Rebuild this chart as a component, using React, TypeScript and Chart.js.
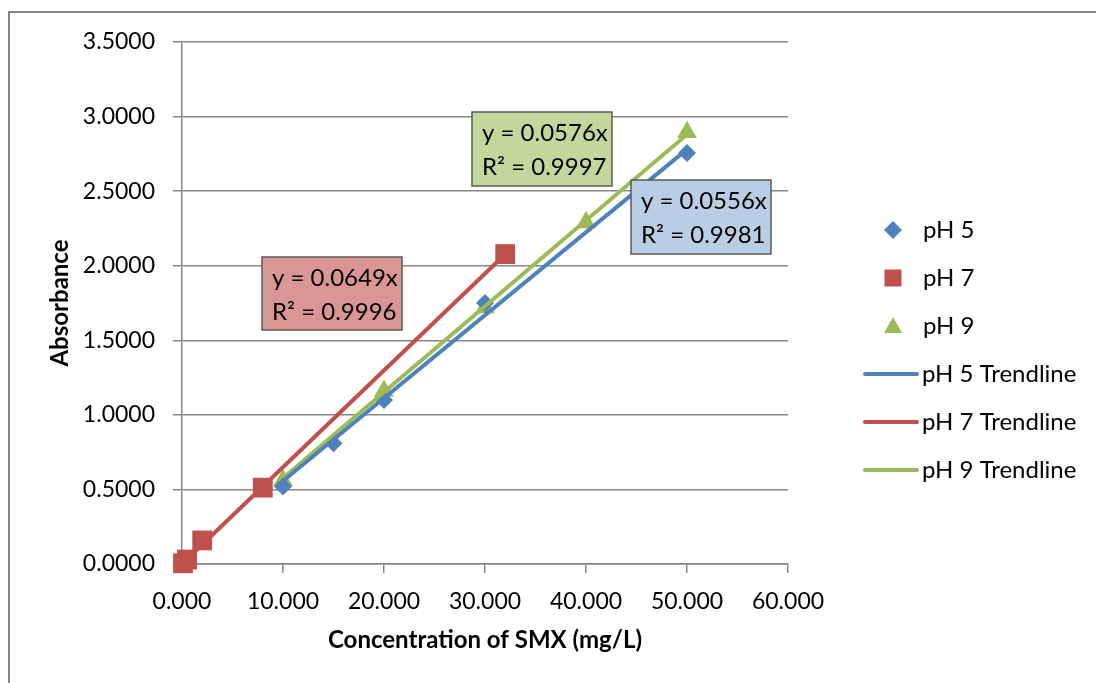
import React, { useEffect, useRef } from "react";
import { Chart, registerables } from "chart.js";

Chart.register(...registerables);

// ---- data ----
const seriesNames = ["pH 5", "pH 7", "pH 9"];
const ph5X = [10, 15, 20, 30, 50];
const ph5Y = [0.52, 0.81, 1.1, 1.75, 2.755];
const ph7X = [0.1, 0.5, 2, 8, 32];
const ph7Y = [0.005, 0.03, 0.158, 0.512, 2.078];
const ph9X = [10, 20, 30, 40, 50];
const ph9Y = [0.56, 1.16, 1.72, 2.29, 2.895];
const trendSlopes = [0.0556, 0.0649, 0.0576];
const trendR2 = [0.9981, 0.9996, 0.9997];
const xTickValues = [0, 10, 20, 30, 40, 50, 60];
const yTickValues = [0, 0.5, 1, 1.5, 2, 2.5, 3, 3.5];
const xTitle = "Concentration of SMX (mg/L)";
const yTitle = "Absorbance";

// ---- styles ----
const COLORS = ["#4f81bd", "#c0504d", "#9bbb59"];
const BOX_FILLS = ["#b9cde5", "#d99694", "#c3d69b"];
const GRID = "#868686";
const FONT = "Lato, 'Open Sans', sans-serif";
const W = 1096;
const H = 683;
// annotation boxes: [left, top, width, height] in pixels, per series
const BOXES = [
  [631, 180, 140, 74],
  [262, 257, 140, 73],
  [472, 112, 140, 74],
];

const xsArr = [ph5X, ph7X, ph9X];
const ysArr = [ph5Y, ph7Y, ph9Y];
const pointStyles = ["rectRot", "rect", "triangle"];
const pointRadii = [9, 14, 11.5];

function drawMarker(ctx: CanvasRenderingContext2D, kind: number, x: number, y: number) {
  ctx.save();
  ctx.fillStyle = COLORS[kind];
  ctx.beginPath();
  if (kind === 0) {
    const r = 9;
    ctx.moveTo(x - r, y);
    ctx.lineTo(x, y - r);
    ctx.lineTo(x + r, y);
    ctx.lineTo(x, y + r);
  } else if (kind === 1) {
    ctx.rect(x - 8.5, y - 8.5, 17, 17);
  } else {
    ctx.moveTo(x, y - 9);
    ctx.lineTo(x + 9, y + 7);
    ctx.lineTo(x - 9, y + 7);
  }
  ctx.closePath();
  ctx.fill();
  ctx.restore();
}

const decorPlugin = {
  id: "decor",
  beforeDraw(chart: any) {
    const ctx = chart.ctx as CanvasRenderingContext2D;
    ctx.save();
    ctx.fillStyle = "#ffffff";
    ctx.fillRect(0, 0, W, H);
    ctx.strokeStyle = GRID;
    ctx.lineWidth = 2;
    ctx.beginPath();
    ctx.moveTo(9, H + 5);
    ctx.lineTo(9, 12);
    ctx.lineTo(W + 5, 12);
    ctx.stroke();
    ctx.restore();
  },
  afterDraw(chart: any) {
    const ctx = chart.ctx as CanvasRenderingContext2D;
    ctx.save();
    // annotation boxes
    for (let i = 0; i < 3; i++) {
      const [bx, by, bw, bh] = BOXES[i];
      ctx.fillStyle = BOX_FILLS[i];
      ctx.fillRect(bx, by, bw, bh);
      ctx.strokeStyle = "#595959";
      ctx.lineWidth = 1.5;
      ctx.strokeRect(bx, by, bw, bh);
      ctx.fillStyle = "#000";
      ctx.font = `24px ${FONT}`;
      ctx.textBaseline = "middle";
      ctx.textAlign = "left";
      ctx.fillText(`y = ${trendSlopes[i].toFixed(4)}x`, bx + 10, by + 21);
      ctx.fillText(`R\u00B2 = ${trendR2[i].toFixed(4)}`, bx + 10, by + 55);
    }
    // legend
    const lx = 893;
    const tx = 923;
    ctx.font = `24px ${FONT}`;
    ctx.fillStyle = "#000";
    for (let i = 0; i < 3; i++) {
      const y = 230 + 48 * i;
      drawMarker(ctx, i, lx, y);
      ctx.fillStyle = "#000";
      ctx.fillText(seriesNames[i], tx, y);
    }
    for (let i = 0; i < 3; i++) {
      const y = 230 + 48 * (i + 3);
      ctx.strokeStyle = COLORS[i];
      ctx.lineWidth = 4;
      ctx.lineCap = "round";
      ctx.beginPath();
      ctx.moveTo(865, y);
      ctx.lineTo(917, y);
      ctx.stroke();
      ctx.fillStyle = "#000";
      ctx.fillText(`${seriesNames[i]} Trendline`, 922, y);
    }
    ctx.restore();
  },
};

export default function App() {
  const ref = useRef<HTMLCanvasElement | null>(null);
  useEffect(() => {
    if (!ref.current) return;
    const scatterSets = [0, 1, 2].map((i) => ({
      type: "scatter" as const,
      label: seriesNames[i],
      data: xsArr[i].map((x, k) => ({ x, y: ysArr[i][k] })),
      backgroundColor: COLORS[i],
      borderColor: COLORS[i],
      borderWidth: 0,
      pointStyle: pointStyles[i],
      pointRadius: pointRadii[i],
      clip: false,
      order: 2,
    }));
    const trendSets = [0, 1, 2].map((i) => {
      const xmin = Math.min(...xsArr[i]);
      const xmax = Math.max(...xsArr[i]);
      return {
        type: "line" as const,
        label: `${seriesNames[i]} Trendline`,
        data: [
          { x: xmin, y: trendSlopes[i] * xmin },
          { x: xmax, y: trendSlopes[i] * xmax },
        ],
        borderColor: COLORS[i],
        borderWidth: 4,
        pointRadius: 0,
        fill: false,
        clip: false,
        order: 1,
      };
    });
    const chart = new Chart(ref.current, {
      type: "scatter",
      data: { datasets: [...trendSets, ...scatterSets] as any },
      plugins: [decorPlugin],
      options: {
        responsive: false,
        animation: false,
        layout: { padding: { left: 0, top: 42, right: 308, bottom: 0 } },
        plugins: { legend: { display: false }, tooltip: { enabled: false } },
        scales: {
          x: {
            type: "linear",
            min: 0,
            max: 60,
            afterFit: (s: any) => {
              s.height = 119;
            },
            afterBuildTicks: (s: any) => {
              s.ticks = xTickValues.map((v) => ({ value: v }));
            },
            ticks: {
              color: "#000",
              font: { family: FONT, size: 23 },
              padding: 15,
              maxRotation: 0,
              callback: (v: any) => Number(v).toFixed(3),
            },
            grid: {
              drawOnChartArea: false,
              color: GRID,
              lineWidth: 1.5,
              tickLength: 9,
            },
            border: { display: true, color: GRID, width: 1.5 },
            title: {
              display: true,
              text: xTitle,
              color: "#000",
              font: { family: FONT, size: 24, weight: "bold" },
              padding: { top: 0, bottom: 28 },
            },
          },
          y: {
            type: "linear",
            min: 0,
            max: 3.5,
            afterFit: (s: any) => {
              s.width = 182;
            },
            afterBuildTicks: (s: any) => {
              s.ticks = yTickValues.map((v) => ({ value: v }));
            },
            ticks: {
              color: "#000",
              font: { family: FONT, size: 23 },
              padding: 18,
              callback: (v: any) => Number(v).toFixed(4),
            },
            grid: {
              color: GRID,
              lineWidth: 1.5,
              tickLength: 9,
            },
            border: { display: true, color: GRID, width: 1.5 },
            title: {
              display: true,
              text: yTitle,
              color: "#000",
              font: { family: FONT, size: 24, weight: "bold" },
              padding: { top: 46, bottom: 0 },
            },
          },
        },
      } as any,
    });
    return () => chart.destroy();
  }, []);
  return (
    <div style={{ position: "fixed", left: 0, top: 0, width: W, height: H, overflow: "hidden", background: "#fff" }}>
      <canvas ref={ref} width={W} height={H} style={{ display: "block", width: W, height: H }} />
    </div>
  );
}
